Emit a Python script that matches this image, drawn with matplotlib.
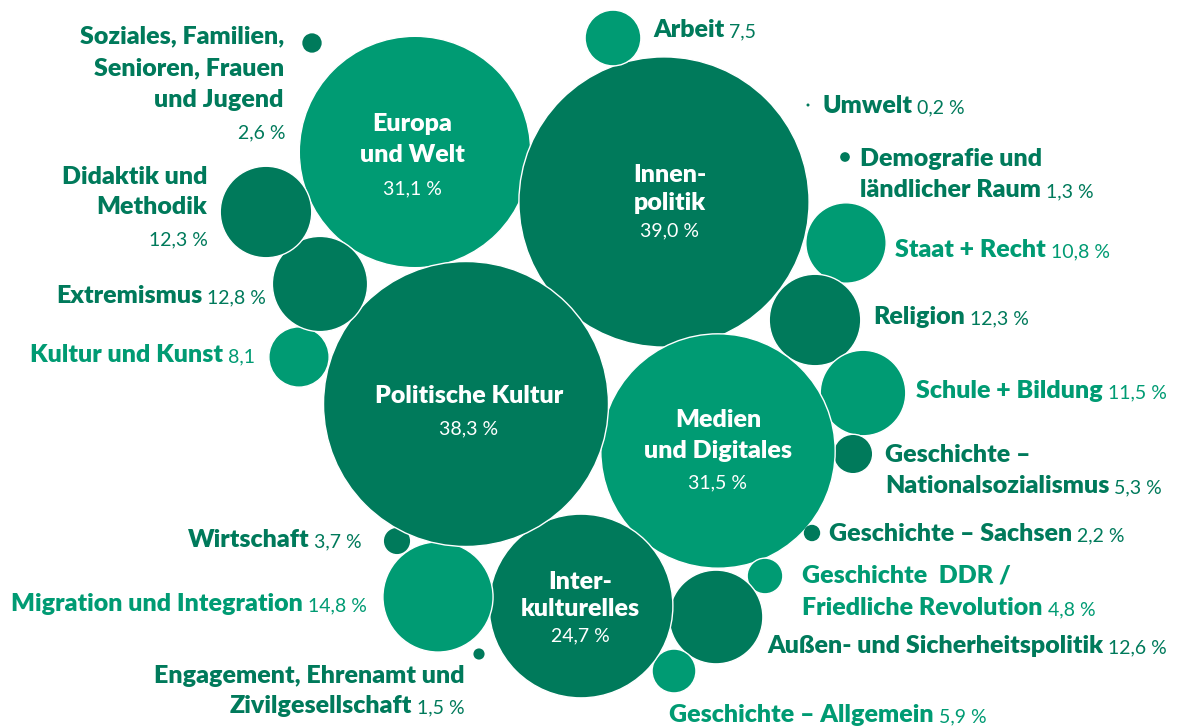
import matplotlib
matplotlib.use("Agg")
import matplotlib.pyplot as plt
from matplotlib.patches import Circle

# ---------------------------------------------------------------------------
# Daten: Themen, Anteile (%), Farbgruppe (d = dunkel, h = hell)
# ---------------------------------------------------------------------------
THEMEN = [
    "Soziales, Familien, Senioren, Frauen und Jugend",
    "Europa und Welt",
    "Innenpolitik",
    "Arbeit",
    "Umwelt",
    "Demografie und ländlicher Raum",
    "Staat + Recht",
    "Religion",
    "Schule + Bildung",
    "Geschichte – Nationalsozialismus",
    "Medien und Digitales",
    "Geschichte – Sachsen",
    "Geschichte DDR / Friedliche Revolution",
    "Außen- und Sicherheitspolitik",
    "Geschichte – Allgemein",
    "Interkulturelles",
    "Migration und Integration",
    "Wirtschaft",
    "Engagement, Ehrenamt und Zivilgesellschaft",
    "Politische Kultur",
    "Kultur und Kunst",
    "Extremismus",
    "Didaktik und Methodik",
]
ANTEILE = [2.6, 31.1, 39.0, 7.5, 0.2, 1.3, 10.8, 12.3, 11.5, 5.3, 31.5, 2.2,
           4.8, 12.6, 5.9, 24.7, 14.8, 3.7, 1.5, 38.3, 8.1, 12.8, 12.3]
FARBGRUPPE = ["d", "h", "d", "h", "d", "d", "h", "d", "h", "d", "h", "d",
              "h", "d", "h", "d", "h", "d", "d", "d", "h", "d", "d"]
# in der Vorlage ohne Prozentzeichen beschriftet
OHNE_PROZENT = {"Arbeit", "Kultur und Kunst"}

# ---------------------------------------------------------------------------
# Layout (Pixelkoordinaten, y nach unten)
# ---------------------------------------------------------------------------
DUNKEL = "#007A5B"
HELL = "#009B73"
PX_PRO_PROZENT = 3.72      # Radius proportional zum Anteil

ZENTREN = [(312, 43), (415, 152), (664, 202), (613, 38), (808, 105),
           (845, 157), (846, 243), (815, 320), (863, 393), (853, 454),
           (718, 451), (812, 533), (765, 576), (716, 617), (674, 671),
           (581, 606), (438, 597), (397, 541), (479, 654), (466, 404),
           (299, 357), (320, 284), (266, 212)]

# (zeilen, x, y erste Grundlinie, Ausrichtung, Modus, Textfarbe, Zeilenabstand)
# Modus: "inline" = Prozent hinter letzter Zeile, "unten" = eigene Zeile,
#        "innen" = weiss in der Blase (y_prozent als letztes Element)
LABELS = [
    (["Soziales, Familien,", "Senioren, Frauen", "und Jugend"], 284, 43, "right", "unten", "d", 32),
    (["Europa", "und Welt"], 412, 131, "center", "innen", None, 31, 194),
    (["Innen-", "politik"], 670, 182, "center", "innen", None, 28, 236),
    (["Arbeit"], 653, 37, "left", "inline", "d", 0),
    (["Umwelt"], 822, 113, "left", "inline", "d", 0),
    (["Demografie und", "ländlicher Raum"], 860, 166, "left", "inline", "d", 31),
    (["Staat + Recht"], 895, 257, "left", "inline", "h", 0),
    (["Religion"], 873, 324, "left", "inline", "d", 0),
    (["Schule + Bildung"], 916, 398, "left", "inline", "h", 0),
    (["Geschichte –", "Nationalsozialismus"], 885, 462, "left", "inline", "d", 31),
    (["Medien", "und Digitales"], 718, 427, "center", "innen", None, 31, 488),
    (["Geschichte – Sachsen"], 829, 541, "left", "inline", "d", 0),
    (["Geschichte  DDR /", "Friedliche Revolution"], 802, 583, "left", "inline", "h", 32),
    (["Außen- und Sicherheitspolitik"], 767, 653, "left", "inline", "d", 0),
    (["Geschichte – Allgemein"], 669, 722, "left", "inline", "h", 0),
    (["Inter-", "kulturelles"], 580, 589, "center", "innen", None, 27, 641),
    (["Migration und Integration"], 367, 611, "right", "inline", "h", 0),
    (["Wirtschaft"], 362, 547, "right", "inline", "d", 0),
    (["Engagement, Ehrenamt und", "Zivilgesellschaft"], 465, 683, "right", "inline", "d", 30),
    (["Politische Kultur"], 469, 403, "center", "innen", None, 0, 434),
    (["Kultur und Kunst"], 255, 362, "right", "inline", "h", 0),
    (["Extremismus"], 266, 303, "right", "inline", "d", 0),
    (["Didaktik und", "Methodik"], 207, 184, "right", "unten", "d", 30),
]

FONT = ["Lato", "DejaVu Sans"]
FS_FETT = 18
FS_PROZENT = 14
GEWICHT = "heavy"
LUECKE = 5


def prozent_text(thema, wert):
    txt = f"{wert:.1f}".replace(".", ",")
    return txt if thema in OHNE_PROZENT else txt + " %"


fig = plt.figure(figsize=(11.82, 7.28), dpi=100)
ax = fig.add_axes([0, 0, 1, 1])
ax.set_xlim(0, 1182)
ax.set_ylim(728, 0)
ax.axis("off")

farben = {"d": DUNKEL, "h": HELL}

# --- Blasen (kleine ohne weissen Rand, sonst verschwinden sie) ---
for (cx, cy), wert, gruppe in zip(ZENTREN, ANTEILE, FARBGRUPPE):
    r = max(wert * PX_PRO_PROZENT, 1.5)
    rand = 1.0 if r > 10 else 0
    ax.add_patch(Circle((cx, cy), r, facecolor=farben[gruppe],
                        edgecolor="white", linewidth=rand, zorder=2))

renderer = fig.canvas.get_renderer()


def breite(t):
    return t.get_window_extent(renderer).width


def fett(x, y, s, farbe, ha):
    return ax.text(x, y, s, fontsize=FS_FETT, fontweight=GEWICHT, family=FONT,
                   color=farbe, ha=ha, va="baseline", zorder=5)


def normal(x, y, s, farbe, ha):
    return ax.text(x, y, s, fontsize=FS_PROZENT, family=FONT,
                   color=farbe, ha=ha, va="baseline", zorder=5)


# --- Beschriftungen ---
for thema, wert, lab in zip(THEMEN, ANTEILE, LABELS):
    zeilen, x, y, ha, modus, fg, dy = lab[:7]
    pct = prozent_text(thema, wert)

    if modus == "innen":
        for i, z in enumerate(zeilen):
            fett(x, y + i * dy, z, "white", ha)
        normal(x, lab[7], pct, "white", ha)
        continue

    farbe = farben[fg]
    n = len(zeilen)
    for i, z in enumerate(zeilen[:-1]):
        fett(x, y + i * dy, z, farbe, ha)
    y_letzte = y + (n - 1) * dy

    if modus == "unten":
        fett(x, y_letzte, zeilen[-1], farbe, ha)
        normal(x + 1, y_letzte + 31, pct, farbe, ha)
    elif ha == "left":
        t = fett(x, y_letzte, zeilen[-1], farbe, "left")
        normal(x + breite(t) + LUECKE, y_letzte, pct, farbe, "left")
    else:
        p = normal(x, y_letzte, pct, farbe, "right")
        fett(x - breite(p) - LUECKE, y_letzte, zeilen[-1], farbe, "right")

fig.savefig("out.png", dpi=100)
